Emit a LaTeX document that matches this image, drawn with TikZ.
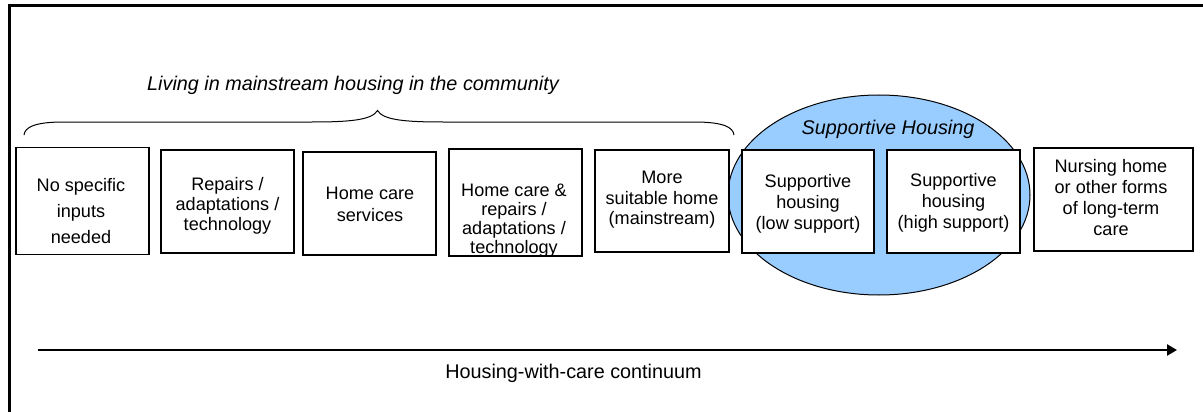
\documentclass[tikz,border=0pt]{standalone}
\usepackage{fontspec}
\setmainfont{Liberation Sans}
\usetikzlibrary{arrows.meta,shapes.geometric}
\definecolor{shblue}{RGB}{153,204,255}
\tikzset{
  bx/.style={draw=black, line width=1.2pt, fill=white, inner sep=0pt, rectangle},
  bt/.style={align=center, inner sep=0pt, anchor=north, font=\fontsize{18.1}{21}\selectfont},
  lbl/.style={inner sep=0pt, anchor=base, font=\fontsize{19.8}{24}\selectfont},
  frameline/.style={line width=3pt, line join=miter},
  arrowline/.style={line width=2.5pt, -{Triangle[length=10pt,width=11pt]}},
}
\begin{document}
\begin{tikzpicture}[x=1pt,y=-1pt]
\useasboundingbox (0,0) rectangle (1203,412);
% frame
\draw[frameline] (1203,5.5) -- (9,5.5) -- (9,412);
% brace
\draw[line width=1pt] (24,135) .. controls (25,127) and (35,122.5) .. (60,122)
  -- (312,122) .. controls (350,122) and (372,120) .. (377.5,110.5)
  .. controls (383,120) and (405,122) .. (443,122)
  -- (698,122) .. controls (723,122.5) and (733,127) .. (734,135);
\node[lbl, font=\fontsize{19.8}{24}\selectfont\itshape] (title) at (353,91) {Living in mainstream housing in the community};
% supportive housing ellipse
\node[ellipse, draw=black, line width=1pt, fill=shblue, inner sep=0pt,
      minimum width=302pt, minimum height=200pt] (sh) at (879,195) {};
\node[lbl, font=\fontsize{19.8}{24}\selectfont\itshape] (shl) at (888,134.5) {Supportive Housing};
% boxes
\node[bx, minimum width=133pt, minimum height=107pt] (b1) at (82.5,201) {};
\node[bx, minimum width=133pt, minimum height=103pt] (b2) at (227.5,201.5) {};
\node[bx, minimum width=133pt, minimum height=103pt] (b3) at (369.5,203.5) {};
\node[bx, minimum width=133pt, minimum height=107pt] (b4) at (515.5,202.5) {};
\node[bx, minimum width=134pt, minimum height=102pt] (b5) at (662,201) {};
\node[bx, minimum width=132pt, minimum height=103pt] (b6) at (808,201.5) {};
\node[bx, minimum width=133pt, minimum height=103pt] (b7) at (953.5,201.5) {};
\node[bx, minimum width=159pt, minimum height=103pt] (b8) at (1113.5,199.5) {};
% box texts
\node[bt, font=\fontsize{18.1}{25.7}\selectfont] (t1) at (81,178.5) {No specific\\inputs\\needed};
\node[bt, font=\fontsize{18.1}{20.3}\selectfont] (t2) at (227.5,176.8) {Repairs /\\adaptations /\\technology};
\node[bt, font=\fontsize{18.1}{22}\selectfont] (t3) at (370,186.8) {Home care\\services};
\node[bt, font=\fontsize{18.1}{19}\selectfont] (t4) at (514,183.5) {Home care \&\\repairs /\\adaptations /\\technology};
\node[bt, font=\fontsize{18.1}{20.7}\selectfont] (t5) at (662,170.8) {More\\suitable home\\(mainstream)};
\node[bt] (t6) at (808,173.8) {Supportive\\housing\\(low support)};
\node[bt] (t7) at (953.5,172.8) {Supportive\\housing\\(high support)};
\node[bt] (t8) at (1111,158.8) {Nursing home\\or other forms\\of long-term\\care};
% continuum arrow
\coordinate (as) at (38,350);
\coordinate (ae) at (1177,350);
\draw[arrowline] (as) -- (ae);
\node[lbl] (cont) at (573.5,378) {Housing-with-care continuum};
\end{tikzpicture}
\end{document}
